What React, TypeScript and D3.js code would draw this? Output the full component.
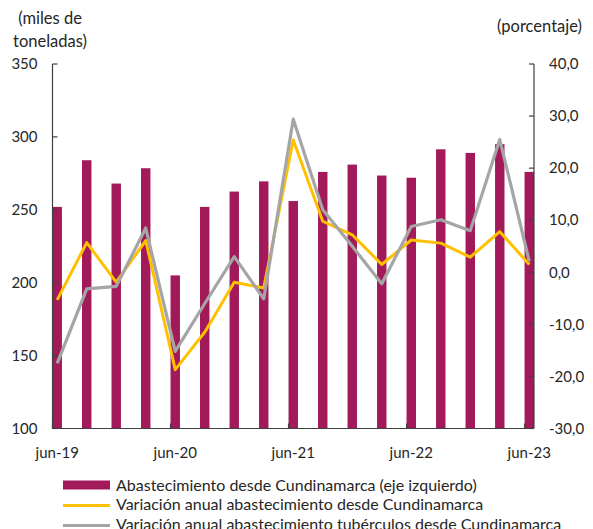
import React from "react";
import * as d3 from "d3";

const periods = ["jun-19","sep-19","dic-19","mar-20","jun-20","sep-20","dic-20","mar-21","jun-21","sep-21","dic-21","mar-22","jun-22","sep-22","dic-22","mar-23","jun-23"];
const abastecimiento = [252, 284, 268, 278.5, 205, 252, 262.5, 269.5, 256, 276, 281, 273.5, 272, 291.5, 289, 295, 276];
const variacionAbast = [-5.3, 5.7, -1.9, 6.1, -18.7, -11.5, -1.9, -3.0, 25.4, 9.8, 7.2, 1.5, 6.2, 5.6, 2.9, 7.8, 1.5];
const variacionTuberculos = [-17.5, -3.2, -2.7, 8.5, -15.2, -6.0, 3.0, -5.1, 29.4, 12.0, 5.0, -2.2, 8.8, 10.1, 8.0, 25.5, 2.1];
const leftTicks = [100, 150, 200, 250, 300, 350];
const rightTicks = [-30, -20, -10, 0, 10, 20, 30, 40];
const xTickIdx = [0, 4, 8, 12, 16];
const legendLabels = [
  "Abastecimiento desde Cundinamarca (eje izquierdo)",
  "Variación anual abastecimiento desde Cundinamarca",
  "Variación anual abastecimiento tubérculos desde Cundinamarca",
];

const W = 593, H = 529;
const L = 52.5, R = 534, T = 64, B = 428.5;
const FONT = "Lato, 'Open Sans', sans-serif";
const TXT = "#262626";
const BAR = "#A21A5A";
const YEL = "#FFC000";
const GRY = "#A5A5A5";

export default function App() {
  const x = d3.scaleLinear().domain([0, 16.32]).range([L, R]);
  const yL = d3.scaleLinear().domain([100, 350]).range([B, T]);
  const yR = d3.scaleLinear().domain([-30, 40]).range([B, T]);
  const bw = x(0.32) - x(0);
  const cx = (i: number) => x(i + 0.16);
  const line = (vals: number[]) =>
    d3.line<number>().x((_, i) => cx(i)).y((v) => yR(v))(vals) || "";
  const fmt = (v: number) => v.toFixed(1).replace(".", ",");

  return (
    <div style={{ position: "fixed", left: 0, top: 0 }}>
      <svg width={W} height={H} style={{ display: "block", background: "#fff" }}>
        <g fontFamily={FONT} fill={TXT} fontSize={16.5}>
          <text x={50} y={18} dy="0.35em" textAnchor="middle">(miles de</text>
          <text x={50} y={41} dy="0.35em" textAnchor="middle">toneladas)</text>
          <text x={539.5} y={26.5} dy="0.35em" textAnchor="middle">(porcentaje)</text>
        </g>
        {abastecimiento.map((v, i) => (
          <rect key={i} x={x(i)} y={yL(v)} width={bw} height={B - yL(v)} fill={BAR} />
        ))}
        <path d={line(variacionAbast)} fill="none" stroke={YEL} strokeWidth={3} strokeLinejoin="round" />
        <path d={line(variacionTuberculos)} fill="none" stroke={GRY} strokeWidth={3.2} strokeLinejoin="round" />
        <g stroke="#404040" strokeWidth={1.2} fill="none">
          <line x1={L} x2={L} y1={T} y2={B} />
          <line x1={R} x2={R} y1={T} y2={B} />
          <line x1={L} x2={R} y1={B} y2={B} />
          {leftTicks.map((t) => (
            <line key={"l" + t} x1={L} x2={L + 5} y1={yL(t)} y2={yL(t)} />
          ))}
          {rightTicks.map((t) => (
            <line key={"r" + t} x1={R - 5} x2={R} y1={yR(t)} y2={yR(t)} />
          ))}
          {xTickIdx.map((i) => (
            <line key={"x" + i} x1={x(i)} x2={x(i)} y1={B - 5} y2={B} />
          ))}
        </g>
        <g fontFamily={FONT} fill={TXT} fontSize={15}>
          {leftTicks.map((t) => (
            <text key={"lt" + t} x={37.5} y={yL(t)} dy="0.35em" textAnchor="end">{t}</text>
          ))}
          {rightTicks.map((t) => (
            <text key={"rt" + t} x={549} y={yR(t)} dy="0.35em" textAnchor="start">{fmt(t)}</text>
          ))}
          {xTickIdx.map((i) => (
            <text key={"xt" + i} x={cx(i)} y={453} dy="0.35em" textAnchor="middle">{periods[i]}</text>
          ))}
        </g>
        <g fontFamily={FONT} fill={TXT} fontSize={16}>
          <rect x={63} y={480.5} width={47} height={9} fill={BAR} />
          <line x1={63} x2={110} y1={505.5} y2={505.5} stroke={YEL} strokeWidth={3} />
          <line x1={63} x2={110} y1={525.5} y2={525.5} stroke={GRY} strokeWidth={3.2} />
          {legendLabels.map((s, k) => (
            <text key={k} x={116} y={485 + k * 19.7} dy="0.35em">{s}</text>
          ))}
        </g>
      </svg>
    </div>
  );
}
